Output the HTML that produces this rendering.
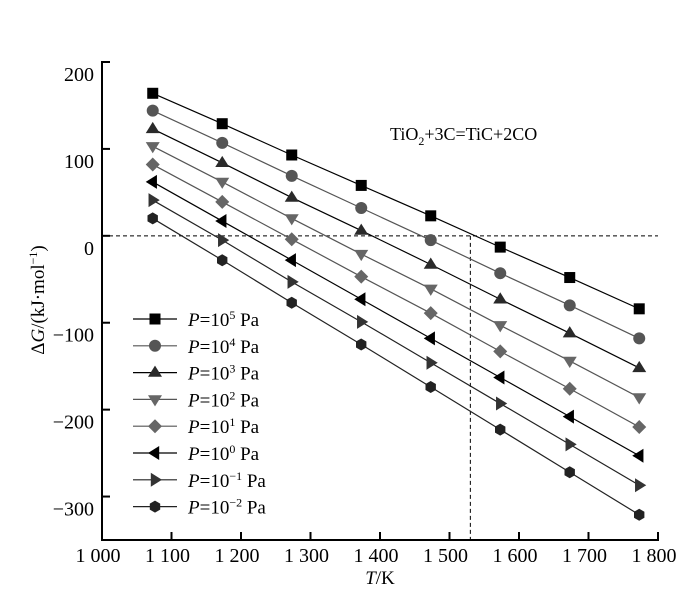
<!DOCTYPE html>
<html><head><meta charset="utf-8"><style>
body{margin:0;background:#fff;}
svg{display:block;font-family:"Liberation Serif",serif;}
</style></head><body>
<svg id="chart" width="700" height="609" viewBox="0 0 700 609" xmlns="http://www.w3.org/2000/svg">
<g id="axes"></g>
<g id="series"></g>
<g id="legend"></g>
<text x="390" y="140" font-size="18">TiO<tspan font-size="12" dy="5">2</tspan><tspan dy="-5">+3C=TiC+2CO</tspan></text>
<text transform="translate(44,300) rotate(-90)" text-anchor="middle" font-size="19">Δ<tspan font-style="italic">G</tspan>/(kJ·mol<tspan font-size="12" dy="-7">−1</tspan><tspan dy="7">)</tspan></text>
<text x="380" y="584" text-anchor="middle" font-size="19"><tspan font-style="italic">T</tspan>/K</text>
</svg>
<script>
const temps=[1073,1173,1273,1373,1473,1573,1673,1773];
const seriesLabels=["5","4","3","2","1","0","−1","−2"];
const s5=[164,129,93,58,23,-13,-48,-84];
const s4=[144,107,69,32,-5,-43,-80,-118];
const s3=[123,84,44,6,-33,-73,-112,-152];
const s2=[103,62,20,-21,-61,-103,-144,-186];
const s1=[82,39,-4,-47,-89,-133,-176,-220];
const s0=[62,17,-28,-73,-118,-163,-208,-253];
const sm1=[41,-5,-53,-99,-146,-193,-240,-287];
const sm2=[20,-28,-77,-125,-174,-223,-272,-321];
const xTicks=[1000,1100,1200,1300,1400,1500,1600,1700,1800];
const xTickLabels=["1 000","1 100","1 200","1 300","1 400","1 500","1 600","1 700","1 800"];
const yTicks=[200,100,0,-100,-200,-300];
const yTickLabels=["200","100","0","−100","−200","−300"];
const allSeries=[s5,s4,s3,s2,s1,s0,sm1,sm2];
const markers=["square","circle","up","down","diamond","left","right","hex"];
const colors=["#000","#555","#2a2a2a","#666","#666","#000","#333","#222"];
const lineCol=["#000","#555","#000","#555","#555","#000","#222","#222"];

const NS="http://www.w3.org/2000/svg";
const X0=102,X1=658,Y0=540,Y1=62;
const xs=t=>X0+(t-1000)/800*(X1-X0);
const ys=v=>Y0-(v+350)/550*(Y0-Y1);
function mk(tag,attrs,parent){const e=document.createElementNS(NS,tag);for(const k in attrs)e.setAttribute(k,attrs[k]);parent.appendChild(e);return e;}
const axes=document.getElementById('axes');
let e=mk('path',{d:`M${X0+8},${Y1} H${X0} V${Y0} H${X1} V${Y0-8}`,fill:'none',stroke:'#000','stroke-width':2},axes);


xTicks.forEach((t,i)=>{
 const l=mk('line',{x1:xs(t),x2:xs(t),y1:Y0,y2:Y0-8,stroke:'#000','stroke-width':2},axes);
 
 
 const tx=mk('text',{x:xs(t)-4,y:Y0+22,'text-anchor':'middle','font-size':20},axes);
 tx.textContent=xTickLabels[i];
 
 
});
yTicks.forEach((v,i)=>{
 const l=mk('line',{x1:X0,x2:X0+8,y1:ys(v),y2:ys(v),stroke:'#000','stroke-width':2},axes);
 
 
 const tx=mk('text',{x:X0-8,y:ys(v)+19,'text-anchor':'end','font-size':20},axes);
 tx.textContent=yTickLabels[i];
 
 
});
e=mk('line',{x1:X0,x2:X1,y1:ys(0),y2:ys(0),stroke:'#000','stroke-width':1,'stroke-dasharray':'4,3'},axes);


e=mk('line',{x1:xs(1530),x2:xs(1530),y1:ys(0),y2:Y0,stroke:'#000','stroke-width':1,'stroke-dasharray':'4,3'},axes);



function marker(type,x,y,c,parent){
 let m;
 if(type==='square')m=mk('rect',{x:x-5.5,y:y-5.5,width:11,height:11,fill:c},parent);
 else if(type==='circle')m=mk('circle',{cx:x,cy:y,r:6,fill:c},parent);
 else if(type==='hex'){let p=[];for(let k=0;k<6;k++){const a=Math.PI/6+k*Math.PI/3;p.push((x+6*Math.cos(a)).toFixed(1)+','+(y+6*Math.sin(a)).toFixed(1));}m=mk('polygon',{points:p.join(' '),fill:c},parent);}
 else{const r=7;let pts;
  if(type==='up')pts=[[x,y-r],[x+r,y+r*0.6],[x-r,y+r*0.6]];
  else if(type==='down')pts=[[x,y+r],[x+r,y-r*0.6],[x-r,y-r*0.6]];
  else if(type==='left')pts=[[x-r,y],[x+r*0.6,y-r],[x+r*0.6,y+r]];
  else if(type==='right')pts=[[x+r,y],[x-r*0.6,y-r],[x-r*0.6,y+r]];
  else pts=[[x,y-7],[x+7,y],[x,y+7],[x-7,y]];
  m=mk('polygon',{points:pts.map(p=>p.join(',')).join(' '),fill:c},parent);}
 return m;
}
const sg=document.getElementById('series');
allSeries.forEach((vals,si)=>{
 const g=mk('g',{},sg);
 
 
 const l=mk('polyline',{points:vals.map((v,i)=>xs(temps[i])+','+ys(v)).join(' '),fill:'none',stroke:lineCol[si],'stroke-width':1.2},g);
 
 
 vals.forEach((v,i)=>{
  const m=marker(markers[si],xs(temps[i]),ys(v),colors[si],g);
  
  
 });
});
const lg=document.getElementById('legend');
seriesLabels.forEach((lab,i)=>{
 const y=319+i*26.8;
 const g=mk('g',{},lg);
 
 
 mk('line',{x1:133,x2:177,y1:y,y2:y,stroke:lineCol[i],'stroke-width':1.2},g);
 marker(markers[i],155,y,colors[i],g);
 const t=mk('text',{x:188,y:y+7,'font-size':19},g);
 t.innerHTML='<tspan font-style="italic">P</tspan>=10<tspan font-size="12" dy="-7">'+lab+'</tspan><tspan dy="7"> Pa</tspan>';
});
</script>
</body></html>
